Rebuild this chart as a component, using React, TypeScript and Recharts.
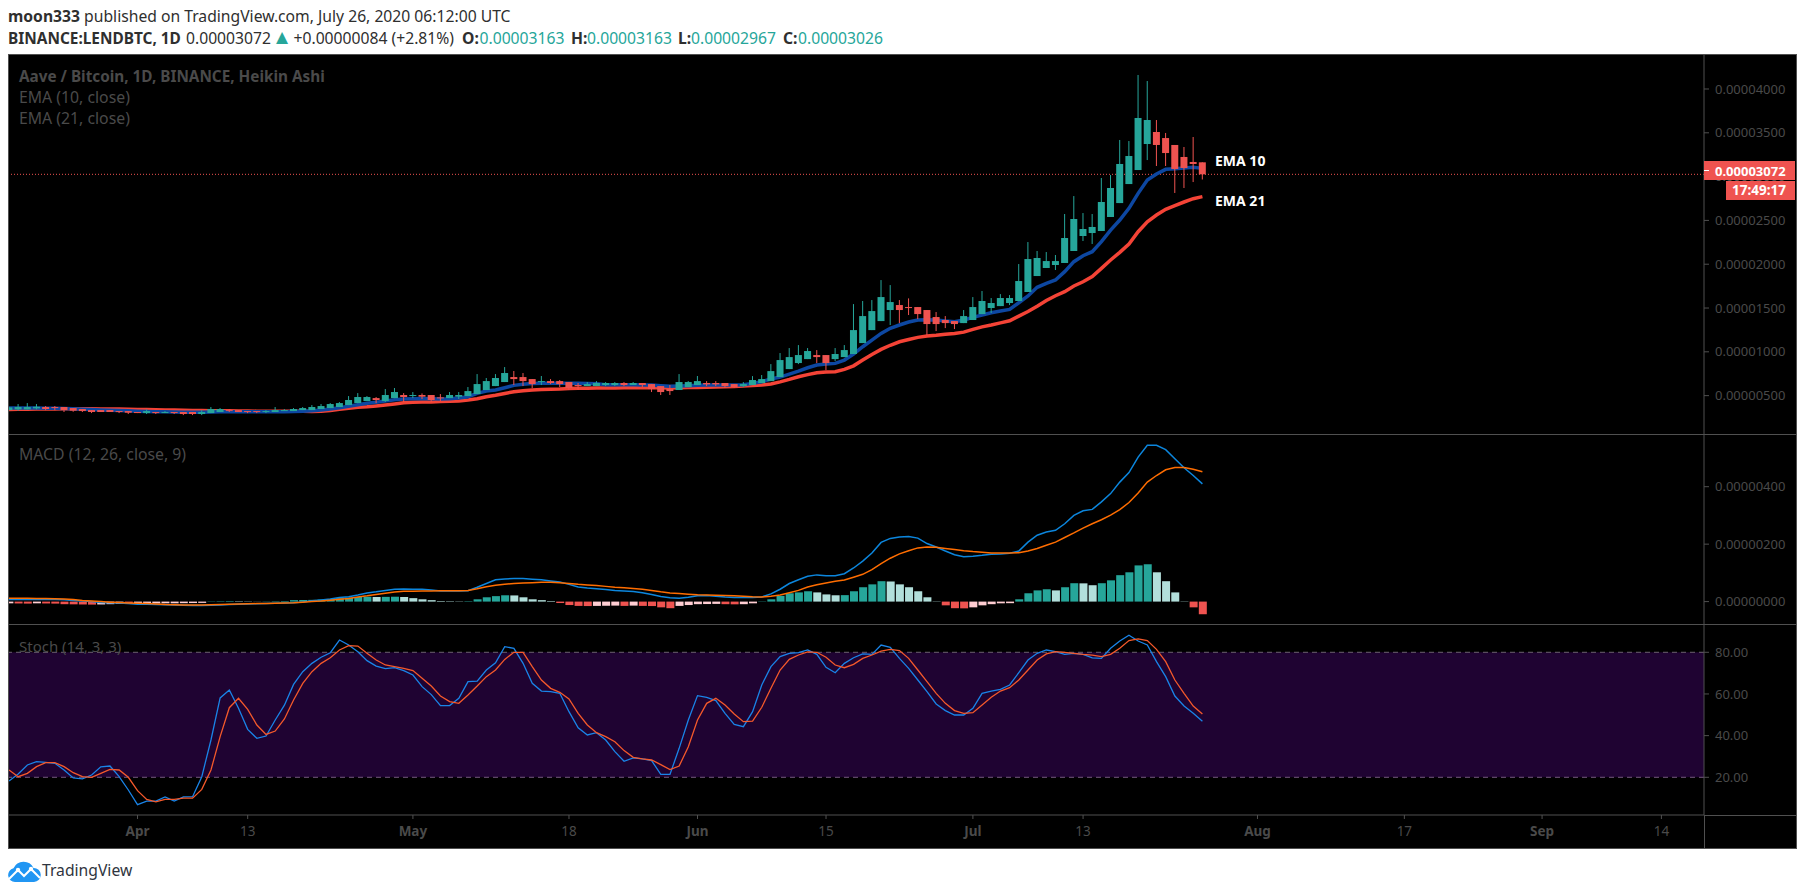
import React from "react";
import { Bar, Cell, ComposedChart, Line, ReferenceArea, ReferenceLine, XAxis, YAxis } from "recharts";

// all prices in satoshi (1 = 0.00000001 BTC), one entry per day, day 0 = Mar 18
const openPrice = [
  335, 343, 343, 354, 370, 370, 370, 358, 347, 335,
  335, 335, 324, 324, 313, 301, 313, 301, 313, 313,
  313, 290, 301, 313, 335, 335, 324, 324, 313, 313,
  328, 324, 335, 335, 347, 358, 370, 392, 415, 438,
  472, 438, 472, 507, 495, 507, 507, 480, 472, 488,
  495, 518, 564, 609, 655, 712, 712, 689, 655, 666,
  666, 655, 621, 609, 609, 621, 621, 644, 621, 644,
  632, 609, 575, 564, 598, 621, 644, 644, 644, 632,
  609, 621, 643, 666, 712, 803, 872, 917, 963, 963,
  917, 940, 975, 1100, 1248, 1351, 1477, 1534, 1511, 1511,
  1477, 1397, 1363, 1351, 1328, 1363, 1431, 1500, 1522, 1557,
  1580, 1683, 1865, 1957, 1991, 2014, 2151, 2322, 2356, 2379,
  2539, 2698, 2915, 3075, 3372, 3509, 3440, 3361, 3224, 3167, 3163,
];
const closePrice = [
  366, 370, 370, 373, 347, 358, 335, 328, 324, 313,
  313, 313, 316, 305, 301, 324, 301, 313, 301, 290,
  290, 313, 347, 347, 324, 313, 313, 313, 324, 335,
  335, 347, 358, 370, 381, 404, 415, 450, 484, 484,
  450, 507, 541, 484, 507, 488, 450, 469, 507, 507,
  552, 632, 666, 701, 758, 689, 666, 632, 666, 644,
  632, 587, 609, 632, 644, 644, 644, 621, 644, 621,
  575, 541, 552, 655, 655, 666, 628, 628, 609, 598,
  632, 678, 689, 780, 906, 940, 963, 1009, 940, 872,
  975, 1020, 1248, 1408, 1465, 1625, 1568, 1477, 1500, 1431,
  1317, 1317, 1328, 1317, 1408, 1511, 1580, 1557, 1614, 1614,
  1808, 2059, 2071, 2036, 2036, 2299, 2516, 2402, 2425, 2710,
  2870, 3144, 3235, 3669, 3646, 3361, 3269, 3087, 3098, 3144, 3026,
];
const highPrice = [
  370, 404, 415, 404, 381, 381, 370, 358, 347, 335,
  335, 335, 324, 324, 313, 343, 313, 324, 313, 313,
  313, 335, 370, 358, 347, 335, 324, 324, 335, 370,
  347, 358, 370, 392, 404, 415, 427, 495, 529, 495,
  484, 575, 587, 529, 541, 525, 507, 518, 541, 541,
  598, 746, 701, 746, 826, 781, 758, 689, 724, 689,
  678, 655, 644, 655, 666, 655, 655, 655, 655, 644,
  632, 609, 621, 746, 666, 724, 666, 666, 644, 632,
  655, 723, 735, 860, 986, 1043, 1077, 1043, 1020, 963,
  1043, 1077, 1545, 1580, 1591, 1819, 1762, 1591, 1610, 1511,
  1477, 1454, 1408, 1351, 1477, 1625, 1694, 1614, 1659, 1648,
  2002, 2253, 2151, 2139, 2105, 2573, 2778, 2584, 2573, 2984,
  3018, 3418, 3406, 4160, 4091, 3646, 3498, 3361, 3338, 3452, 3163,
];
const lowPrice = [
  335, 328, 343, 343, 335, 335, 313, 316, 313, 301,
  313, 313, 301, 290, 301, 290, 290, 301, 290, 278,
  278, 278, 301, 313, 313, 313, 301, 301, 301, 313,
  328, 324, 335, 335, 347, 358, 370, 392, 415, 438,
  415, 427, 472, 427, 472, 461, 427, 438, 472, 461,
  495, 518, 564, 609, 655, 621, 609, 587, 621, 632,
  598, 564, 564, 609, 609, 609, 609, 609, 621, 598,
  541, 507, 507, 564, 598, 621, 609, 609, 587, 587,
  598, 621, 643, 666, 712, 803, 860, 917, 872, 792,
  895, 940, 975, 1100, 1248, 1351, 1306, 1328, 1420, 1374,
  1191, 1237, 1271, 1260, 1328, 1363, 1431, 1443, 1522, 1534,
  1580, 1683, 1865, 1957, 1934, 2014, 2151, 2265, 2231, 2379,
  2539, 2698, 2915, 3075, 3189, 3121, 3121, 2813, 2870, 2938, 2967,
];
const ema10 = [
  358, 358, 358, 358, 357, 355, 352, 349, 345, 341,
  336, 333, 330, 326, 323, 320, 317, 315, 313, 311,
  309, 310, 313, 315, 316, 315, 315, 315, 316, 317,
  317, 319, 323, 328, 336, 348, 362, 378, 396, 412,
  425, 438, 452, 461, 464, 466, 463, 461, 465, 472,
  488, 526, 552, 564, 590, 617, 630, 638, 640, 641,
  641, 640, 640, 637, 635, 625, 625, 624, 624, 622,
  621, 614, 608, 610, 614, 618, 620, 621, 621, 620,
  625, 640, 659, 690, 712, 746, 780, 818, 849, 860,
  868, 906, 975, 1058, 1134, 1210, 1268, 1306, 1340, 1363,
  1366, 1363, 1351, 1344, 1363, 1393, 1420, 1446, 1465, 1484,
  1560, 1637, 1736, 1782, 1820, 1915, 2029, 2097, 2143, 2257,
  2390, 2504, 2638, 2809, 2961, 3030, 3083, 3090, 3098, 3106, 3094,
];
const ema21 = [
  343, 344, 345, 346, 347, 348, 349, 349, 349, 349,
  348, 347, 346, 345, 343, 341, 339, 337, 335, 332,
  330, 329, 328, 327, 326, 325, 324, 323, 323, 323,
  322, 322, 321, 320, 322, 330, 343, 355, 366, 372,
  381, 392, 405, 419, 423, 426, 428, 434, 436, 440,
  450, 465, 488, 505, 525, 545, 556, 564, 570, 574,
  575, 580, 583, 585, 586, 587, 588, 589, 590, 590,
  590, 590, 588, 590, 592, 594, 596, 598, 600, 603,
  611, 615, 622, 632, 657, 685, 716, 740, 762, 770,
  773, 800, 840, 906, 970, 1028, 1075, 1115, 1140, 1165,
  1180, 1188, 1200, 1210, 1225, 1256, 1285, 1306, 1330, 1355,
  1408, 1460, 1520, 1585, 1640, 1686, 1751, 1800, 1858, 1953,
  2048, 2135, 2231, 2371, 2485, 2561, 2626, 2668, 2710, 2748, 2771,
];
const macdLine = [
  7, 7, 7, 7, 7, 7, 6, 4, 2, 0,
  -3, -4, -5, -7, -9, -9.5, -10, -11, -11.5, -13,
  -14, -14, -13, -12, -10, -9, -8.5, -7.5, -7, -6,
  -5, -4, -1, 3, 6, 9, 14, 17, 23, 30,
  34, 39, 43, 44, 43, 43, 40, 37, 37, 37,
  38, 50, 63, 76, 79, 80, 80, 78, 76, 72,
  68, 60, 51, 47, 45, 42, 39, 37, 35, 31,
  25, 18, 13, 12, 15, 20, 21, 19, 16, 14,
  14, 14, 16, 27, 43, 63, 76, 88, 93, 90,
  90, 97, 117, 141, 169, 206, 220, 225, 227, 221,
  202, 190, 176, 163, 156, 158, 161, 165, 166, 168,
  176, 207, 231, 242, 248, 271, 300, 316, 321, 347,
  376, 416, 449, 503, 544, 544, 529, 497, 466, 439, 410,
];
const signalLine = [
  12, 12, 12, 11, 11, 10, 9, 7, 4, 2,
  0, -2, -3.5, -4.5, -6, -7, -8, -10, -11, -11.5,
  -12, -12, -11, -10, -9, -8, -7.5, -7, -6.5, -6,
  -5, -4, -2, 0, 2, 5, 8, 11, 16, 20,
  25, 29, 33, 36, 36, 37, 37, 38, 38, 38,
  39, 45, 52, 57, 60, 63, 65, 66, 67, 67,
  66, 63, 60, 58, 56, 53, 50, 48, 46, 43,
  39, 34, 30, 28, 26, 24, 23, 22, 21, 20,
  19, 17, 16, 19, 23, 31, 39, 51, 59, 65,
  71, 75, 85, 95, 111, 132, 151, 166, 177, 187,
  190, 189, 185, 181, 177, 174, 172, 169, 169, 169,
  170, 176, 185, 196, 207, 223, 239, 256, 271, 285,
  301, 320, 345, 378, 416, 439, 459, 467, 467, 461, 452,
];
const macdHist = [
  -6, -6.5, -7, -6, -6.5, -7, -9, -9.5, -10, -10.5,
  -10, -9, -8, -8.5, -7.5, -7, -6.5, -6, -6, -5.5,
  -5, -4.5, 1, 1.5, 2, 1.5, 1, 0.5, 1, 1.5,
  2, 5, 5.5, 6, 7, 9, 12, 14, 16, 17,
  16, 16.5, 17, 16, 12, 8, 5, 2, 1.5, 1,
  1.5, 8, 15, 19, 22, 21.5, 15, 8, 5, 2,
  -5, -12, -15, -15.5, -15, -14.5, -14, -15, -14, -15,
  -15.5, -20, -23, -15, -12, -9, -8.5, -8, -9, -9.5,
  -9, -6, 1, 8, 20, 29, 32, 36, 32, 25,
  22, 22.5, 36, 50, 60, 71, 70, 60, 50, 36,
  15, 1, -13, -23, -23.5, -20, -13, -9, -6, -5.5,
  8, 29, 39, 43, 39, 50, 64, 63.5, 57, 64,
  74, 92, 102, 126, 130, 102, 71, 32, 1, -20, -44,
];
const stochK = [
  18.2, 21.6, 25.9, 27.5, 27.2, 26.7, 23.5, 19.7, 19.2, 21.1,
  25, 25.4, 20.3, 13.9, 6.9, 8.6, 8.6, 10.6, 8.6, 10.6,
  10.7, 20.3, 37.9, 58.1, 61.9, 53.1, 43, 38.7, 39.8, 47.5,
  54.6, 64.6, 70.7, 74.7, 77.6, 79.8, 85.9, 83.5, 80.3, 76,
  73.4, 72.2, 72.6, 71.2, 69.1, 63.5, 59.7, 54.4, 54.4, 57.9,
  65.9, 66.2, 71.5, 75, 82.7, 81.9, 74.7, 65.1, 61.4, 61.1,
  60.3, 51.5, 43.8, 40.3, 41.4, 37.9, 32.3, 27.7, 29.3, 28.8,
  28, 21.4, 21.4, 33.9, 47.5, 59.2, 58.4, 56.8, 50.7, 45.4,
  44.3, 51.5, 64.3, 73.1, 77.9, 79.5, 79.8, 81.1, 79, 72.8,
  70.2, 74.7, 77.4, 79.2, 79, 83.5, 82.4, 77.1, 72.3, 66.7,
  61.1, 55.2, 52, 49.9, 49.9, 53.1, 60.3, 61.4, 62.2, 64.3,
  70.2, 76.3, 79.5, 81.1, 80.3, 79, 79.5, 79, 77.3, 77.1,
  81.9, 85.4, 88.2, 85.4, 83.5, 75.5, 68.3, 59, 54.2, 50.7, 46.9,
];
const stochD = [
  23.5, 20.3, 21.9, 25.1, 27, 27, 25.1, 22.2, 20.3, 20,
  21.9, 23.8, 23.5, 20, 13.6, 9.4, 8.2, 9.4, 9.4, 10,
  10, 14.2, 23.5, 39.5, 53.4, 57.9, 52.6, 45.1, 40.6, 42.2,
  48, 57.1, 65.1, 70.7, 74.7, 77.4, 81.1, 83.2, 83, 79.5,
  76.3, 73.9, 73.1, 72.3, 71.2, 67.5, 63.8, 59, 56.3, 55.5,
  59.5, 63.8, 68.3, 71.5, 76.6, 80, 80, 73.1, 66.7, 62.7,
  60.8, 57.6, 50.7, 45.1, 41.4, 39.5, 37.1, 32.8, 29.6, 28.8,
  28.3, 26.1, 23.7, 25.4, 34.7, 47.5, 55.5, 57.9, 54.7, 50.4,
  46.7, 47, 53.6, 62.7, 71.5, 76.6, 78.7, 80.2, 80, 77.6,
  73.9, 72.6, 74.2, 77.1, 78.7, 80.6, 81.4, 80.8, 77.1, 71.5,
  65.9, 60.3, 55.5, 52, 50.7, 51, 54.7, 58.4, 61.4, 63,
  66.7, 71.5, 76.3, 79.2, 80.3, 80, 79.5, 79, 78.6, 77.9,
  79, 81.9, 85.6, 86.4, 85.6, 81.4, 75.5, 66.7, 60.3, 54.2, 50.4,
];

const timeTicks = [14, 26, 44, 61, 75, 89, 105, 117, 136, 152, 167, 180];
const timeLabels = ["Apr", "13", "May", "18", "Jun", "15", "Jul", "13", "Aug", "17", "Sep", "14"];
const priceTicks = [500, 1000, 1500, 2000, 2500, 3000, 3500, 4000];
const macdTicks = [0, 200, 400];
const stochTicks = [20, 40, 60, 80];

const UP = "#26a69a";
const DOWN = "#ef5350";
const BORDER = "#505050";
const FAINT = "#4a4a4a";
const INK = "#2f2f2f";
const FONT = "'Noto Sans', sans-serif";
const DAY_DOMAIN: [number, number] = [0, 184.64];
const PRICE_DOMAIN: [number, number] = [62, 4388];

const rows = openPrice.map((open, day) => ({
  day,
  open,
  close: closePrice[day],
  high: highPrice[day],
  low: lowPrice[day],
  range: [lowPrice[day], highPrice[day]],
  ema10: ema10[day],
  ema21: ema21[day],
  macd: macdLine[day],
  signal: signalLine[day],
  hist: macdHist[day],
  k: stochK[day],
  d: stochD[day],
}));

const histColor = (v: number, prev: number) => {
  if (v >= 0) return v >= prev ? UP : "#b2dfdb";
  return v >= prev ? "#ffcdd2" : DOWN;
};

const sats = (v: number) => (v / 1e8).toFixed(8);

// body and wick inside the [low, high] rectangle the bar gets from its scale
const Candle = (props: any) => {
  const { x, y, width, height, payload } = props;
  const perUnit = height / (payload.high - payload.low || 1);
  const bodyTop = y + (payload.high - Math.max(payload.open, payload.close)) * perUnit;
  const bodyHeight = Math.max(Math.abs(payload.open - payload.close) * perUnit, 1);
  const fill = payload.close >= payload.open ? UP : DOWN;
  return (
    <g>
      <rect x={x + width / 2 - 0.5} y={y} width={1} height={Math.max(height, 1)} fill={fill} />
      <rect x={x} y={bodyTop} width={width} height={bodyHeight} fill={fill} />
    </g>
  );
};

const TimeTick = (props: any) => {
  const { x, y, payload } = props;
  const label = timeLabels[timeTicks.indexOf(payload.value)];
  return (
    <text x={x} y={y + 15} textAnchor="middle" fontSize={13.5} fontFamily={FONT} fill={FAINT} fontWeight={/\d/.test(label) ? 400 : 700}>
      {label}
    </text>
  );
};

const Txt = ({ x, y, size = 15.8, color = FAINT, bold = false, family = FONT, children }: any) => (
  <div
    style={{
      position: "absolute",
      left: x,
      top: y,
      transform: "translateY(-50%)",
      fontFamily: family,
      fontSize: size,
      color,
      fontWeight: bold ? 700 : 400,
      whiteSpace: "nowrap",
      lineHeight: 1,
    }}
  >
    {children}
  </div>
);

const Rule = ({ x, y, w, h }: any) => (
  <div style={{ position: "absolute", left: x, top: y, width: w, height: h, background: BORDER }} />
);

const axisProps = {
  orientation: "right" as const,
  width: 92,
  interval: 0,
  axisLine: { stroke: BORDER },
  tickLine: { stroke: BORDER },
  tickSize: 5,
  tickMargin: 6,
  tick: { fill: FAINT, fontSize: 13, fontFamily: FONT, textAnchor: "start" },
};

const Pane = ({ top, height, children }: any) => (
  <div style={{ position: "absolute", left: 9, top }}>
    <ComposedChart width={1787} height={height} data={rows} margin={{ top: 0, right: 0, bottom: 0, left: 0 }}>
      {children}
    </ComposedChart>
  </div>
);

const Logo = () => (
  <svg style={{ position: "absolute", left: 8, top: 861 }} width={33} height={21} viewBox="0 0 33 21">
    <path d="M7 21a7 7 0 0 1-1.5-13.8A11 11 0 0 1 25.5 7a7 7 0 0 1 .5 14z" fill="#2196f3" />
    <polyline points="1,18 10,9 16,15 23,8 32,17" fill="none" stroke="#fff" strokeWidth={2} />
    <circle cx={10} cy={9} r={2.2} fill="#fff" />
    <circle cx={23} cy={8} r={2.2} fill="#fff" />
  </svg>
);

const App = () => {
  const last = closePrice[closePrice.length - 1];
  return (
    <div style={{ position: "absolute", left: 0, top: 0, width: 1805, height: 895, background: "#fff", overflow: "hidden" }}>
      <Txt x={8} y={17} size={15.7} color={INK}>
        <b>moon333</b> published on TradingView.com, July 26, 2020 06:12:00 UTC
      </Txt>
      <Txt x={8} y={39} size={15.4} color={INK} bold>BINANCE:LENDBTC, 1D</Txt>
      <Txt x={186} y={39} size={15.7} color={INK}>0.00003072</Txt>
      <Txt x={276} y={38} size={15.6} color={UP} family="'DejaVu Sans', sans-serif">▲</Txt>
      <Txt x={293.5} y={39} size={15.7} color={INK}>+0.00000084 (+2.81%)</Txt>
      <Txt x={462} y={39} size={15.7} color={INK} bold>O:</Txt>
      <Txt x={479.5} y={39} size={15.7} color={UP}>0.00003163</Txt>
      <Txt x={571} y={39} size={15.7} color={INK} bold>H:</Txt>
      <Txt x={587} y={39} size={15.7} color={UP}>0.00003163</Txt>
      <Txt x={678} y={39} size={15.7} color={INK} bold>L:</Txt>
      <Txt x={691} y={39} size={15.7} color={UP}>0.00002967</Txt>
      <Txt x={783} y={39} size={15.7} color={INK} bold>C:</Txt>
      <Txt x={798} y={39} size={15.7} color={UP}>0.00003026</Txt>

      <div style={{ position: "absolute", left: 8, top: 54, width: 1789, height: 795, background: "#000", boxSizing: "border-box", border: `1px solid ${BORDER}` }} />

      <Pane top={55} height={379}>
        <XAxis dataKey="day" type="number" domain={DAY_DOMAIN} hide allowDataOverflow />
        <YAxis {...axisProps} domain={PRICE_DOMAIN} ticks={priceTicks} tickFormatter={sats} />
        <ReferenceLine y={last} stroke={DOWN} strokeDasharray="1 2" />
        <Line dataKey="ema21" stroke="#f44336" strokeWidth={3.5} dot={false} isAnimationActive={false} />
        <Line dataKey="ema10" stroke="#0d47a1" strokeWidth={3.5} dot={false} isAnimationActive={false} />
      </Pane>
      {/* candles sit on a second chart so they draw over the EMA lines */}
      <div style={{ position: "absolute", left: 9, top: 55 }}>
        <ComposedChart width={1787} height={379} data={rows} margin={{ top: 0, right: 92, bottom: 0, left: 0 }}>
          <XAxis dataKey="day" type="number" domain={DAY_DOMAIN} hide allowDataOverflow />
          <YAxis domain={PRICE_DOMAIN} hide />
          <Bar dataKey="range" barSize={7} shape={<Candle />} isAnimationActive={false} />
        </ComposedChart>
      </div>
      <Rule x={9} y={434} w={1787} h={1} />

      <Pane top={435} height={189}>
        <XAxis dataKey="day" type="number" domain={DAY_DOMAIN} hide allowDataOverflow />
        <YAxis {...axisProps} domain={[-78, 580]} ticks={macdTicks} tickFormatter={sats} />
        <Bar dataKey="hist" barSize={8} isAnimationActive={false}>
          {macdHist.map((v, i) => (
            <Cell key={i} fill={histColor(v, i ? macdHist[i - 1] : v)} />
          ))}
        </Bar>
        <Line dataKey="macd" stroke="#0c86dd" strokeWidth={1.5} dot={false} isAnimationActive={false} />
        <Line dataKey="signal" stroke="#ff6d00" strokeWidth={1.5} dot={false} isAnimationActive={false} />
      </Pane>
      <Rule x={9} y={624} w={1787} h={1} />

      <Pane top={625} height={223}>
        <XAxis
          dataKey="day"
          type="number"
          domain={DAY_DOMAIN}
          ticks={timeTicks}
          interval={0}
          height={33}
          tickSize={4}
          allowDataOverflow
          axisLine={{ stroke: BORDER }}
          tickLine={{ stroke: BORDER }}
          tick={<TimeTick />}
        />
        <YAxis {...axisProps} domain={[1.9, 93.1]} ticks={stochTicks} tickFormatter={(v: number) => v.toFixed(2)} />
        <ReferenceArea y1={20} y2={80} fill="#1f0332" fillOpacity={1} stroke="none" />
        <ReferenceLine y={80} stroke="#6b6270" strokeDasharray="5 4" />
        <ReferenceLine y={20} stroke="#75587f" strokeDasharray="5 4" />
        <Line dataKey="k" stroke="#1a84e8" strokeWidth={1.3} dot={false} isAnimationActive={false} />
        <Line dataKey="d" stroke="#f4592b" strokeWidth={1.3} dot={false} isAnimationActive={false} />
      </Pane>
      <Rule x={1704} y={815} w={92} h={1} />
      <Rule x={1704} y={815} w={1} h={33} />

      <Txt x={19} y={77} size={15.3} bold>Aave / Bitcoin, 1D, BINANCE, Heikin Ashi</Txt>
      <Txt x={19} y={98}>EMA (10, close)</Txt>
      <Txt x={19} y={119}>EMA (21, close)</Txt>
      <Txt x={19} y={455}>MACD (12, 26, close, 9)</Txt>
      <Txt x={19} y={646} size={15}>Stoch (14, 3, 3)</Txt>

      <Txt x={1215} y={161} size={14} color="#fff" bold>EMA 10</Txt>
      <Txt x={1215} y={201} size={14} color="#fff" bold>EMA 21</Txt>

      <div style={{ position: "absolute", left: 1704, top: 161, width: 91, height: 19, background: DOWN }} />
      <div style={{ position: "absolute", left: 1704, top: 170, width: 5, height: 1, background: "#fff" }} />
      <Txt x={1715} y={170.5} size={13} color="#fff" bold>0.00003072</Txt>
      <div style={{ position: "absolute", left: 1726, top: 181, width: 69, height: 19, background: DOWN }} />
      <Txt x={1732} y={190.5} size={13.5} color="#fff" bold>17:49:17</Txt>

      <Logo />
      <Txt x={42} y={871} size={15.7} color="#2f3540">TradingView</Txt>
    </div>
  );
};

export default App;
